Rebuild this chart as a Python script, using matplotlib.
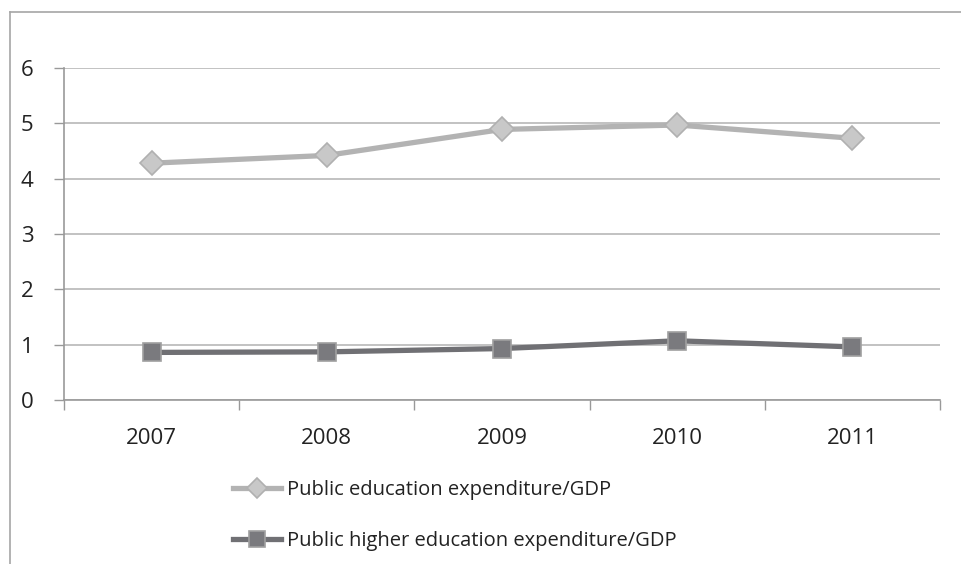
import matplotlib

matplotlib.use("Agg")
import matplotlib.pyplot as plt
from matplotlib.lines import Line2D

years = ["2007", "2008", "2009", "2010", "2011"]
public_edu = [4.28, 4.42, 4.89, 4.97, 4.73]
higher_edu = [0.86, 0.87, 0.93, 1.07, 0.96]
series_labels = [
    "Public education expenditure/GDP",
    "Public higher education expenditure/GDP",
]
y_ticks = [0, 1, 2, 3, 4, 5, 6]

plt.rcParams["font.family"] = ["Open Sans", "DejaVu Sans"]

W, H = 962, 564
fig = plt.figure(figsize=(W / 100, H / 100), dpi=100)
ax = fig.add_axes([64 / W, 1 - 400 / H, 876 / W, 332 / H])

x = range(len(years))
ax.plot(x, public_edu, color="#b3b3b3", lw=3.8, marker="D", ms=12,
        mfc="#c8c8c8", mec="#b0b0b0", mew=1.2, label=series_labels[0], zorder=3)
ax.plot(x, higher_edu, color="#707074", lw=3.8, marker="s", ms=13.5,
        mfc="#7a7a7e", mec="#a0a0a0", mew=1.2, label=series_labels[1], zorder=3)

ax.set_xlim(-0.5, len(years) - 0.5)
ax.set_ylim(0, 6)
ax.set_yticks(y_ticks)
ax.set_xticks(x)
ax.set_xticklabels(years)
ax.set_xticks([i - 0.5 for i in range(len(years) + 1)], minor=True)
ax.tick_params(axis="x", which="major", length=0, pad=20, labelsize=16, colors="#222222")
ax.tick_params(axis="x", which="minor", length=7, width=1, color="#999999", direction="out")
ax.tick_params(axis="y", length=7, width=1, color="#999999", pad=15, labelsize=16,
               labelcolor="#222222")
ax.grid(axis="y", color="#b8b8b8", lw=1.2, zorder=0)
for side in ("top", "right"):
    ax.spines[side].set_visible(False)
for side in ("left", "bottom"):
    ax.spines[side].set_color("#999999")
    ax.spines[side].set_linewidth(1.2)

# outer chart-area border (left and top edges only visible)
fig.add_artist(Line2D([10 / W, 10 / W], [0, 1 - 12 / H], color="#a6a6a6", lw=1.2))
fig.add_artist(Line2D([10 / W, 1], [1 - 12 / H, 1 - 12 / H], color="#a6a6a6", lw=1.2))

fig.legend(loc="upper left", bbox_to_anchor=(233 / W, 1 - 480 / H), frameon=False,
           fontsize=14.5, handlelength=2.4, handletextpad=0.3, labelspacing=1.55,
           borderaxespad=0, borderpad=0, labelcolor="#222222", markerscale=0.85)

fig.savefig("out.png", dpi=100)
